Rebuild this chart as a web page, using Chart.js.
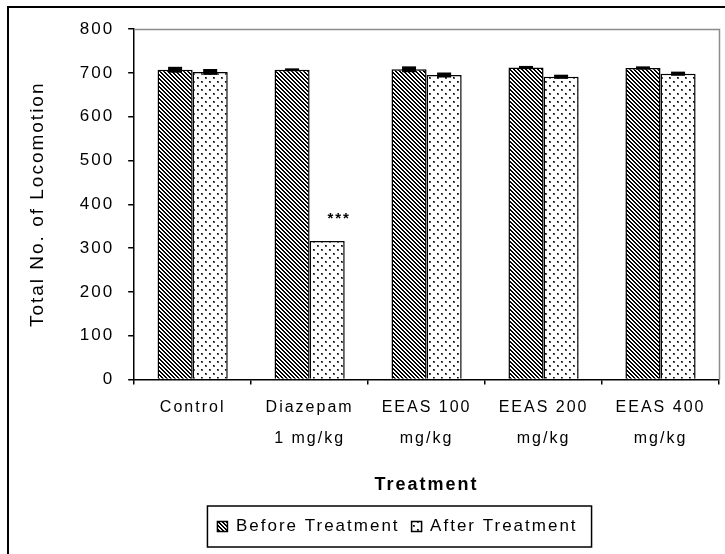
<!DOCTYPE html>
<html>
<head>
<meta charset="utf-8">
<title>Total No. of Locomotion</title>
<script src="https://cdn.jsdelivr.net/npm/chart.js@4.4.1/dist/chart.umd.min.js"></script>
<style>
  html, body { margin: 0; padding: 0; background: #fff; }
  #wrap { width: 725px; height: 554px; }
</style>
</head>
<body>
<div id="wrap"><canvas id="myChart" width="725" height="554"></canvas></div>
<script>
'use strict';
// data
let treatments = [['Control'], ['Diazepam', '1 mg/kg'], ['EEAS 100', 'mg/kg'], ['EEAS 200', 'mg/kg'], ['EEAS 400', 'mg/kg']];
let beforeValues = [707, 707, 708, 712, 711];
let afterValues = [702, 316, 695, 691, 698];
let beforeErr = [5, 1.5, 5, 2, 2];
let afterErr = [5, 0, 4, 3, 3];
let afterMarks = ['', '***', '', '', ''];
let yTicks = [0, 100, 200, 300, 400, 500, 600, 700, 800];

let fontName = '"Liberation Sans", Arial, sans-serif';

// hatch for "before", dots for "after"
function makeHatch() {
    let c = document.createElement('canvas');
    c.width = 4;
    c.height = 4;
    let g = c.getContext('2d');
    g.fillStyle = '#fff';
    g.fillRect(0, 0, 4, 4);
    g.fillStyle = '#000';
    for (let i = 0; i < 4; i++) {
        g.fillRect(i, i, 1, 1);
        g.fillRect((i + 1) % 4, i, 1, 1);
    }
    return g.createPattern(c, 'repeat');
}
function makeDots() {
    let c = document.createElement('canvas');
    c.width = 8;
    c.height = 8;
    let g = c.getContext('2d');
    g.fillStyle = '#fff';
    g.fillRect(0, 0, 8, 8);
    g.fillStyle = '#555';
    g.fillRect(1, 1, 2, 2);
    g.fillRect(5, 5, 2, 2);
    g.fillStyle = '#000';
    g.fillRect(1, 1, 1, 1);
    g.fillRect(5, 5, 1, 1);
    return g.createPattern(c, 'repeat');
}

let spacingPlugin = {
    id: 'spacing',
    beforeUpdate(chart) { chart.ctx.letterSpacing = '2px'; },
    beforeDraw(chart) { chart.ctx.letterSpacing = '2px'; },
    afterLayout(chart) {
        // legend sits a little right of centre in the original
        chart.legend.left += 25;
        chart.legend.right += 25;
    }
};

let decorPlugin = {
    id: 'decor',
    beforeDraw(chart) {
        let ctx = chart.ctx;
        ctx.save();
        ctx.fillStyle = '#fff';
        ctx.fillRect(0, 0, chart.width, chart.height);
        ctx.restore();
    },
    afterDatasetsDraw(chart) {
        let ctx = chart.ctx;
        let y = chart.scales.y;
        let errs = [beforeErr, afterErr];
        let vals = [beforeValues, afterValues];
        ctx.save();
        ctx.fillStyle = '#000';
        for (let d = 0; d < 2; d++) {
            let meta = chart.getDatasetMeta(d);
            meta.data.forEach(function (bar, i) {
                if (!errs[d][i]) return;
                let top = y.getPixelForValue(vals[d][i] + errs[d][i]);
                let bot = y.getPixelForValue(vals[d][i] - errs[d][i]);
                ctx.fillRect(bar.x - 7, top - 0.75, 14, bot - top + 1.5);
            });
        }
        // significance stars
        let meta = chart.getDatasetMeta(1);
        ctx.font = 'bold 15px ' + fontName;
        ctx.textAlign = 'center';
        ctx.textBaseline = 'middle';
        meta.data.forEach(function (bar, i) {
            if (afterMarks[i]) {
                ctx.fillText(afterMarks[i], bar.x + 12, bar.y - 22);
            }
        });
        ctx.restore();
    },
    afterDraw(chart) {
        let ctx = chart.ctx;
        let a = chart.chartArea;
        ctx.save();
        // grey plot frame top / right
        ctx.strokeStyle = '#8c8c8c';
        ctx.lineWidth = 1.5;
        ctx.beginPath();
        ctx.moveTo(a.left, a.top + 0.5);
        ctx.lineTo(a.right + 0.5, a.top + 0.5);
        ctx.lineTo(a.right + 0.5, a.bottom);
        ctx.stroke();
        // outer frame
        ctx.strokeStyle = '#000';
        ctx.lineWidth = 2;
        ctx.beginPath();
        ctx.moveTo(8, chart.height);
        ctx.lineTo(8, 7);
        ctx.lineTo(chart.width, 7);
        ctx.stroke();
        // legend frame
        let lg = chart.legend;
        let pad = lg.options.labels.padding;
        let w = lg.lineWidths[0];
        let x0 = (lg.left + pad + lg.right - w) / 2;
        let hb = lg.legendHitBoxes[0];
        ctx.lineWidth = 1.5;
        ctx.strokeRect(x0 - 10, hb.top - 12, w - pad + 24, hb.height + 24);
        ctx.restore();
    }
};

let ctx = document.getElementById('myChart').getContext('2d');
let chart = new Chart(ctx, {
    type: 'bar',
    data: {
        labels: treatments,
        datasets: [
            {
                label: 'Before Treatment',
                data: beforeValues,
                backgroundColor: makeHatch(),
                borderColor: '#000',
                borderWidth: 1.5
            },
            {
                label: 'After Treatment',
                data: afterValues,
                backgroundColor: makeDots(),
                borderColor: '#000',
                borderWidth: 1.5
            }
        ]
    },
    options: {
        responsive: false,
        animation: false,
        devicePixelRatio: 1,
        layout: { padding: { left: 26, right: 6, top: 29, bottom: 9 } },
        datasets: {
            bar: { categoryPercentage: 0.6, barPercentage: 1.0 }
        },
        plugins: {
            tooltip: { enabled: false },
            legend: {
                position: 'bottom',
                labels: {
                    color: '#000',
                    font: { family: fontName, size: 17 },
                    boxWidth: 10,
                    boxHeight: 10,
                    padding: 12
                }
            }
        },
        scales: {
            x: {
                grid: {
                    display: true,
                    drawOnChartArea: false,
                    drawTicks: true,
                    tickLength: 5,
                    color: '#000',
                    lineWidth: 1.5
                },
                border: { display: true, color: '#000', width: 1.5 },
                ticks: {
                    color: '#000',
                    padding: 8,
                    maxRotation: 0,
                    font: { family: fontName, size: 16, lineHeight: 1.9 }
                },
                title: {
                    display: true,
                    text: 'Treatment',
                    color: '#000',
                    font: { family: fontName, size: 18, weight: 'bold' },
                    padding: { top: 13, bottom: 10 }
                }
            },
            y: {
                min: 0,
                max: 800,
                afterBuildTicks(scale) {
                    scale.ticks = yTicks.map(function (v) { return { value: v }; });
                },
                grid: {
                    display: true,
                    drawOnChartArea: false,
                    drawTicks: true,
                    tickLength: 6,
                    color: '#000',
                    lineWidth: 1.5
                },
                border: { display: true, color: '#000', width: 1.5 },
                ticks: {
                    color: '#000',
                    padding: 14,
                    font: { family: fontName, size: 17 }
                },
                title: {
                    display: true,
                    text: 'Total No. of Locomotion',
                    color: '#000',
                    font: { family: fontName, size: 19 },
                    padding: { top: 0, bottom: 17 }
                }
            }
        }
    },
    plugins: [spacingPlugin, decorPlugin]
});
</script>
</body>
</html>
